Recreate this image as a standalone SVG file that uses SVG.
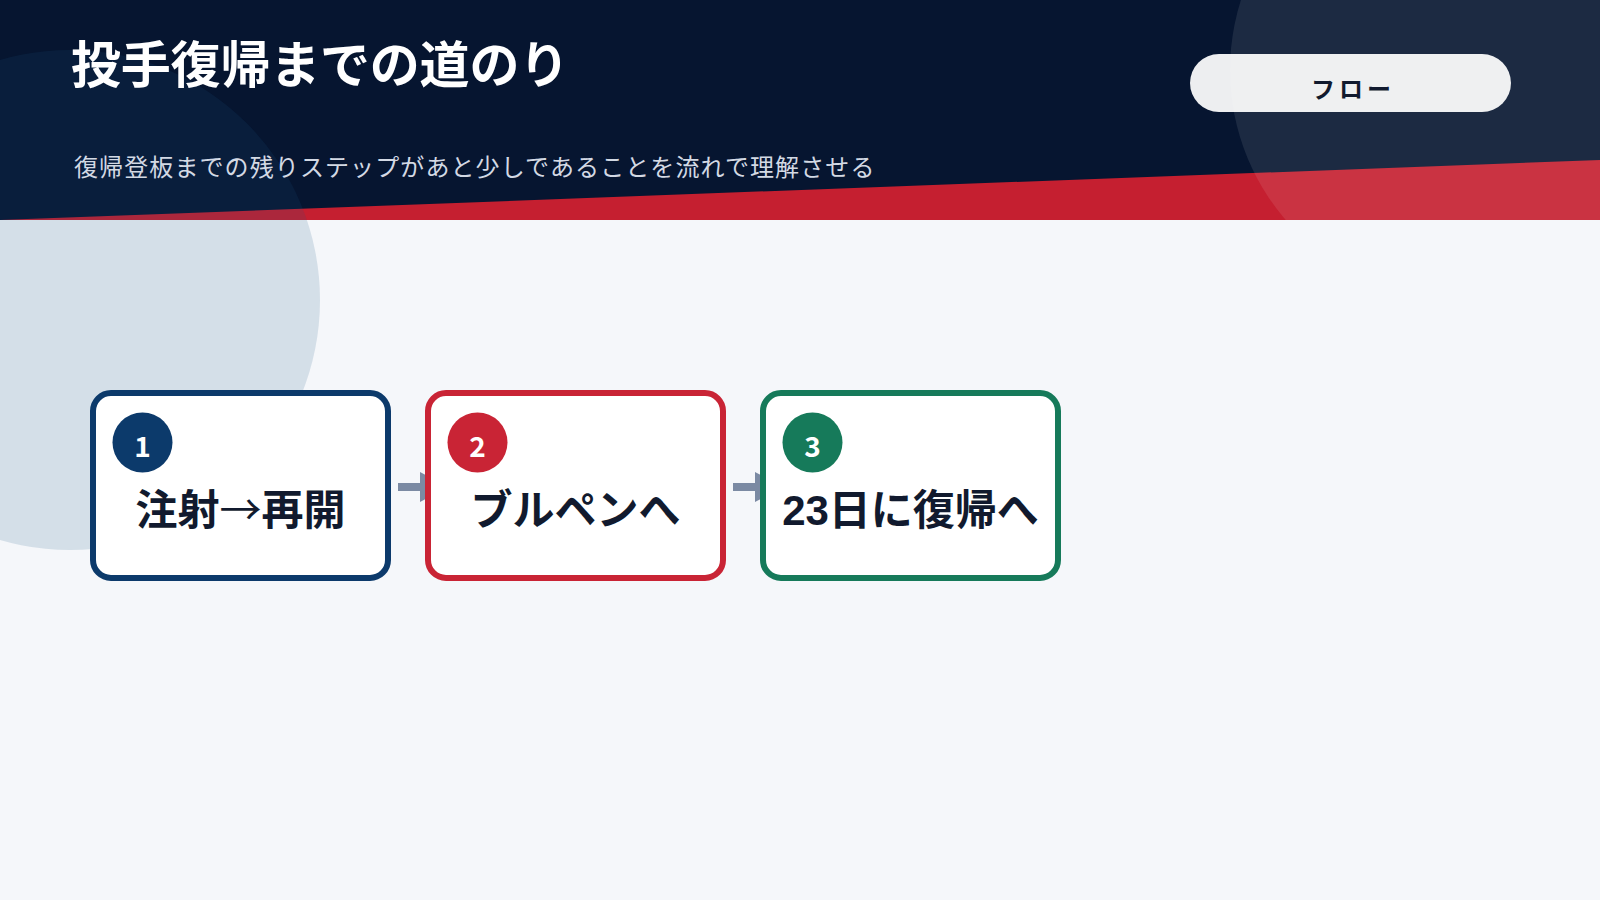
<svg xmlns="http://www.w3.org/2000/svg" width="1600" height="900" viewBox="0 0 1600 900">
  <defs>
    <style>
      .jp { font-family: "Noto Sans CJK JP", sans-serif; }
      .lbl { font-family: "Liberation Sans", "Noto Sans CJK JP", sans-serif; }
      .thin { font-family: "Noto Sans CJK JP", sans-serif; font-weight: 400; }
      .title { font-size: 50px; font-weight: 700; fill: #ffffff; letter-spacing: -0.2px; }
      .subtitle { font-size: 24px; font-weight: 400; fill: #d3d9e4; letter-spacing: 1.1px; }
      .pill-text { font-size: 24px; font-weight: 700; fill: #111a2e; letter-spacing: 4px; }
      .card { fill: #ffffff; stroke-width: 6; }
      .label { font-size: 42px; font-weight: 700; fill: #111a2e; text-anchor: middle; }
      .num { font-size: 28px; font-weight: 700; fill: #ffffff; text-anchor: middle; }
      .conn { stroke: #7b8aa3; stroke-width: 8; fill: none; }
    </style>
    <marker id="arrow" markerUnits="userSpaceOnUse" markerWidth="28" markerHeight="30" refX="0" refY="15" orient="auto" viewBox="0 0 28 30">
      <path d="M0,0 L28,15 L0,30 Z" fill="#7b8aa3"/>
    </marker>
  </defs>

  <!-- background -->
  <g id="background">
    <rect x="0" y="0" width="1600" height="900" fill="#f5f7fa"/>
    <rect x="0" y="0" width="1600" height="220" fill="#061530"/>
    <polygon points="0,220 1600,160 1600,220" fill="#c51f30"/>
    <circle cx="70" cy="300" r="250" fill="#1b5786" fill-opacity="0.15"/>
    <circle cx="1460" cy="70" r="230" fill="#ffffff" fill-opacity="0.09"/>
  </g>

  <!-- header texts -->
  <g id="header">
    <text class="jp title" x="71" y="83">投手復帰までの道のり</text>
    <text class="jp subtitle" x="74" y="175.5">復帰登板までの残りステップがあと少しであることを流れで理解させる</text>
  </g>

  <g id="badge-flow">
    <rect x="1190" y="54" width="321" height="58" rx="29" fill="#ffffff" fill-opacity="0.93"/>
    <text class="jp pill-text" x="1353" y="97.5" text-anchor="middle">フロー</text>
  </g>

  <!-- connectors -->
  <g id="connectors">
    <line class="conn" x1="398" y1="487" x2="420" y2="487" marker-end="url(#arrow)"/>
    <line class="conn" x1="733" y1="487" x2="755" y2="487" marker-end="url(#arrow)"/>
  </g>

  <!-- step 1 -->
  <g id="step1">
    <rect class="card" x="93" y="393" width="295" height="185" rx="18" stroke="#0c3a6b"/>
    <circle cx="142.5" cy="442.5" r="30" fill="#0c3a6b"/>
    <text class="jp num" x="142.5" y="456.5">1</text>
    <text class="lbl label" x="240.5" y="525">注射<tspan class="thin">→</tspan>再開</text>
  </g>

  <!-- step 2 -->
  <g id="step2">
    <rect class="card" x="428" y="393" width="295" height="185" rx="18" stroke="#c92435"/>
    <circle cx="477.5" cy="442.5" r="30" fill="#c92435"/>
    <text class="jp num" x="477.5" y="456.5">2</text>
    <text class="lbl label" x="575.5" y="525">ブルペンへ</text>
  </g>

  <!-- step 3 -->
  <g id="step3">
    <rect class="card" x="763" y="393" width="295" height="185" rx="18" stroke="#167a5a"/>
    <circle cx="812.5" cy="442.5" r="30" fill="#167a5a"/>
    <text class="jp num" x="812.5" y="456.5">3</text>
    <text class="lbl label" x="910.5" y="525">23日に復帰へ</text>
  </g>
</svg>
